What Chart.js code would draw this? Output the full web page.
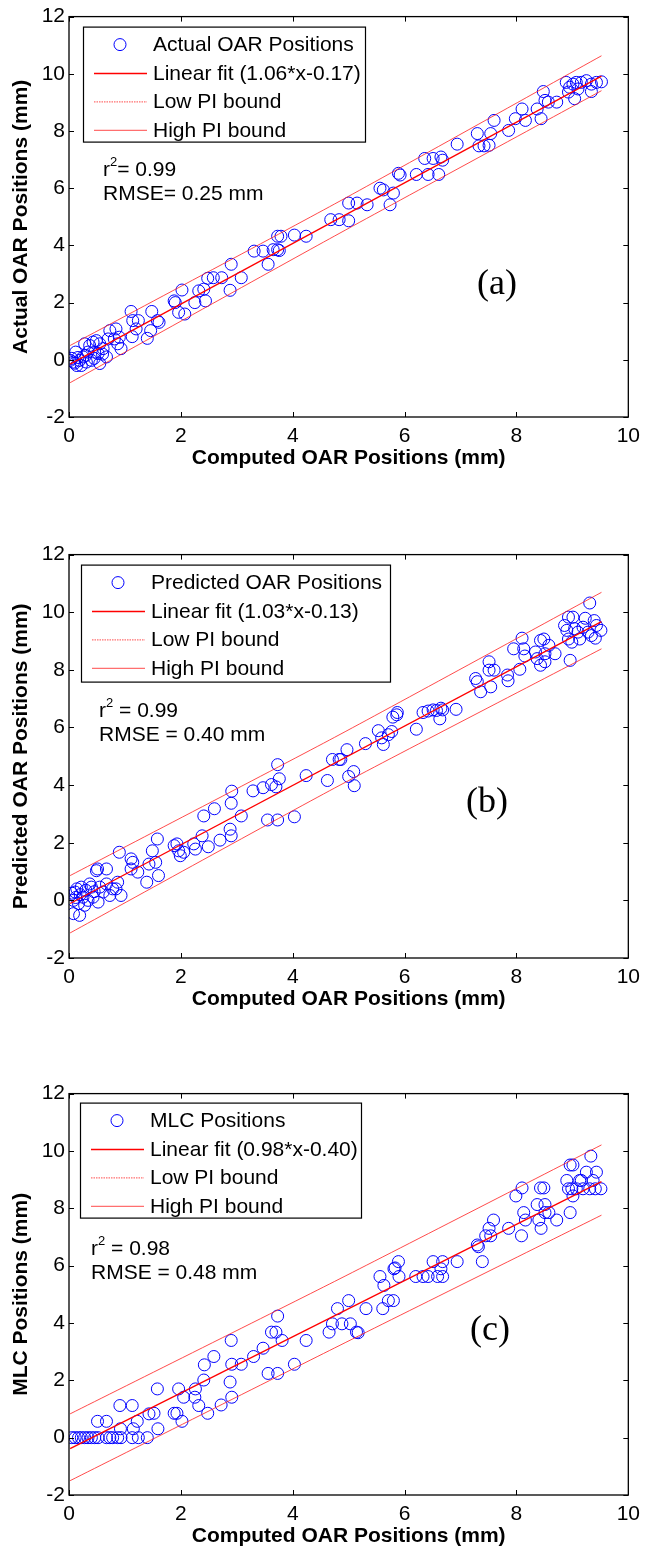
<!DOCTYPE html>
<html>
<head>
<meta charset="utf-8">
<script src="https://cdn.jsdelivr.net/npm/chart.js@4.4.1/dist/chart.umd.min.js"></script>
<style>
  html, body { margin: 0; padding: 0; background: #fff; }
  body { width: 647px; height: 1552px; position: relative; overflow: hidden; }
  .panel { position: absolute; left: 0; width: 647px; }
  .panel canvas { display: block; }
</style>
</head>
<body>
<div class="panel" style="top:0"><canvas id="chartA" width="647" height="538"></canvas></div>
<div class="panel" style="top:538px"><canvas id="chartB" width="647" height="539"></canvas></div>
<div class="panel" style="top:1077px"><canvas id="chartC" width="647" height="475"></canvas></div>
<script>
// (a) actual vs computed OAR positions, mm
const actualX = [0.02, 0.05, 0.08, 0.10, 0.14, 0.12, 0.16, 0.19, 0.22, 0.25, 0.28, 0.30, 0.31, 0.34, 0.37, 0.40, 0.43, 0.45, 0.46, 0.49, 0.52, 0.55, 0.55, 0.60, 0.61, 0.67, 0.70, 0.73, 0.81, 0.84, 0.87, 0.90, 0.93,
  1.11, 1.14, 1.24, 1.20, 1.13, 1.40, 1.46, 1.48, 1.58, 1.61, 1.88, 1.90, 2.02, 1.96, 2.07, 2.25, 2.32, 2.41, 2.44, 2.48, 2.58, 2.73, 2.90, 2.88, 3.08,
  3.31, 3.47, 3.56, 3.65, 3.73, 3.76, 3.73, 3.79, 4.03, 4.24, 4.68, 4.83, 5.00, 5.00, 5.15, 5.33, 5.56, 5.62, 5.80, 5.74, 5.89, 5.92, 6.21, 6.42, 6.61,
  6.36, 6.51, 6.65, 6.68, 6.94, 7.30, 7.33, 7.42, 7.51, 7.54, 7.60, 7.86, 7.98, 8.10, 8.16, 8.37, 8.44, 8.48, 8.51, 8.57, 8.72, 8.89, 8.95, 9.01, 9.07,
  9.04, 9.16, 9.25, 9.34, 9.34, 9.43, 9.52, 8.93, 9.10];
const actualY = [-0.02, 0.05, -0.08, -0.12, -0.20, 0.27, 0.08, -0.02, -0.20, 0.10, 0.56, 0.15, -0.08, 0.27, 0.50, -0.02, 0.62, 0.05, 0.27, 0.67, 0.22, -0.13, 0.56, 0.20, 0.39, 0.10, 0.73, 1.02, 0.73, 1.08, 0.56, 0.79, 0.39,
  1.69, 1.37, 1.37, 1.08, 0.81, 0.75, 1.02, 1.69, 1.37, 1.31, 2.06, 2.00, 2.44, 1.66, 1.60, 2.00, 2.41, 2.47, 2.06, 2.85, 2.87, 2.87, 3.34, 2.43, 2.87,
  3.80, 3.80, 3.34, 3.85, 3.85, 3.82, 4.32, 4.32, 4.36, 4.32, 4.90, 4.90, 4.86, 5.48, 5.48, 5.42, 6.00, 5.94, 5.83, 5.42, 6.52, 6.46, 6.48, 6.48, 6.48,
  7.04, 7.04, 7.09, 6.98, 7.54, 7.91, 7.48, 7.48, 7.50, 7.91, 8.37, 8.02, 8.43, 8.77, 8.37, 8.77, 8.43, 9.38, 9.07, 9.01, 9.01, 9.70, 9.53, 9.64, 9.70,
  9.13, 9.70, 9.76, 9.64, 9.38, 9.70, 9.72, 9.36, 9.47];
const actualFit = [1.06, -0.17];
const actualLow = [-0.80, 4.33, 9.41];
const actualHigh = [0.50, 5.45, 10.63];

// (b) predicted vs computed
const predX = [0.08, 0.19, 0.11, 0.14, 0.22, 0.08, 0.17, 0.25, 0.28, 0.37, 0.40, 0.43, 0.52, 0.49, 0.51, 0.67, 0.55, 0.67, 0.73, 0.78, 0.87, 0.93, 0.90, 0.34, 0.61, 0.84,
  0.05, 0.12, 0.20, 0.30, 0.45,
  1.11, 1.14, 1.11, 1.23, 1.39, 1.43, 1.49, 1.55, 1.58, 1.60, 1.88, 1.93, 1.96, 1.99, 2.05, 2.23, 2.26, 2.38, 2.49, 2.41, 2.60, 2.70, 2.88, 2.90, 2.91, 2.90,
  3.08, 3.29, 3.47, 3.55, 3.62, 3.70, 3.73, 3.76, 3.73, 4.03, 4.24, 4.62, 4.71, 4.83, 4.86, 5.00, 5.09, 5.10,
  4.97, 5.30, 5.53, 5.59, 5.62, 5.71, 5.77, 5.79, 5.87, 5.86, 6.21, 6.33, 6.42, 6.51, 6.57, 6.65, 6.68, 6.63, 6.92, 7.27, 7.30, 7.36, 7.51, 7.54, 7.51,
  7.60, 7.84, 7.85, 7.95, 8.06, 8.10, 8.13, 8.15, 8.34, 8.37, 8.43, 8.49, 8.43, 8.51, 8.51, 8.58, 8.69, 8.86, 8.90, 8.93, 9.01, 8.93, 8.99, 8.96, 9.04,
  9.10, 9.13, 9.19, 9.23, 9.31, 9.34, 9.39, 9.41, 9.43, 9.51, 9.28];
const predY = [-0.46, -0.52, 0.29, 0.40, 0.46, 0.00, -0.11, 0.11, -0.17, 0.57, 0.46, 0.11, -0.06, 1.03, 1.09, 1.09, 0.46, 0.57, 0.17, 0.40, 0.63, 0.17, 1.67, 0.00, 0.29, 0.40,
  0.25, 0.10, 0.20, 0.35, 0.30,
  1.44, 1.32, 1.09, 0.98, 0.63, 1.26, 1.72, 1.32, 2.13, 0.86, 1.90, 1.96, 1.72, 1.55, 1.67, 1.96, 1.78, 2.24, 1.86, 2.93, 3.18, 2.09, 2.47, 2.24, 3.79, 3.37,
  2.93, 3.80, 3.91, 2.79, 4.02, 3.94, 2.79, 4.22, 4.71, 2.90, 4.33, 4.16, 4.89, 4.89, 4.89, 4.30, 4.47, 3.98,
  5.23, 5.44, 5.89, 5.64, 5.41, 5.75, 5.86, 6.36, 6.52, 6.44, 5.94, 6.52, 6.57, 6.61, 6.59, 6.67, 6.61, 6.30, 6.63, 7.70, 7.59, 7.24, 7.99, 7.41, 8.28,
  7.99, 7.82, 7.62, 8.73, 8.02, 9.10, 8.73, 8.48, 8.62, 8.39, 9.02, 9.07, 8.16, 8.56, 8.28, 8.85, 8.56, 9.54, 9.37, 9.83, 9.83, 9.07, 8.96, 8.33, 9.43,
  9.31, 9.07, 9.48, 9.79, 10.32, 9.19, 9.71, 9.10, 9.54, 9.37, 9.31];
const predFit = [1.03, -0.13];
const predLow = [-1.13, 3.90, 8.73];
const predHigh = [0.86, 5.66, 10.69];

// (c) MLC vs computed
const mlcX = [0.05, 0.11, 0.17, 0.22, 0.28, 0.34, 0.40, 0.46, 0.52, 0.67, 0.73, 0.78, 0.87, 0.93, 1.13, 1.24, 1.40,
  0.51, 0.67, 0.91, 1.13, 0.92, 1.15, 1.22, 1.43, 1.52, 1.58, 1.59, 1.88, 1.93, 1.96, 2.02, 2.05, 2.25, 2.26, 2.32, 2.41, 2.42, 2.48, 2.59, 2.72,
  2.88, 2.90, 2.91, 2.91, 3.08, 3.30, 3.47, 3.56, 3.62, 3.70, 3.73, 3.73, 3.81, 4.03, 4.24, 4.65, 4.71, 4.80, 4.88, 5.00, 5.03, 5.14, 5.17, 5.31,
  5.56, 5.63, 5.61, 5.71, 5.80, 5.81, 5.90, 5.89, 6.20, 6.33, 6.42, 6.59, 6.68, 6.65, 6.51, 6.68, 6.94, 7.39, 5.83,
  7.30, 7.32, 7.45, 7.51, 7.54, 7.59, 7.86, 7.99, 8.09, 8.10, 8.13, 8.16, 8.37, 8.40, 8.44, 8.43, 8.49, 8.51, 8.51, 8.58, 8.72, 8.90, 8.93, 8.96, 9.01,
  8.96, 9.01, 8.99, 9.07, 9.13, 9.16, 9.19, 9.25, 9.31, 9.33, 9.37, 9.41, 9.43, 9.51];
const mlcY = [0, 0, 0, 0, 0, 0, 0, 0, 0, 0, 0, 0, 0, 0, 0, 0, 0,
  0.57, 0.57, 1.12, 1.12, 0.31, 0.31, 0.57, 0.83, 0.85, 1.70, 0.31, 0.85, 0.85, 1.70, 0.57, 1.41, 1.41, 1.70, 1.12, 2.01, 2.54, 0.85, 2.83, 1.14,
  1.94, 3.39, 2.56, 1.41, 2.56, 2.83, 3.12, 2.24, 3.68, 3.68, 4.24, 2.24, 3.39, 2.56, 3.39, 3.68, 3.97, 4.50, 3.97, 4.78, 3.97, 3.68, 3.66, 4.50,
  5.62, 5.31, 4.50, 4.78, 4.78, 5.89, 5.62, 6.14, 5.62, 5.62, 5.62, 5.62, 5.62, 5.89, 6.14, 6.14, 6.14, 6.14, 5.92,
  6.72, 6.66, 7.04, 7.30, 7.04, 7.59, 7.30, 8.43, 7.04, 8.71, 7.85, 7.59, 8.13, 7.59, 7.30, 8.71, 8.71, 8.13, 7.85, 7.85, 7.59, 8.97, 8.68, 9.51, 9.51,
  7.85, 8.43, 8.68, 8.68, 8.97, 8.97, 8.68, 9.26, 8.68, 9.82, 8.97, 8.68, 9.26, 8.68];
const mlcFit = [0.98, -0.40];
const mlcLow = [-1.50, 3.13, 7.76];
const mlcHigh = [0.83, 5.45, 10.21];

// x positions where the fit and PI curves are sampled
const boundX = [0.02, 4.75, 9.52];
const xTicks = [0, 2, 4, 6, 8, 10];
const yTicks = [-2, 0, 2, 4, 6, 8, 10, 12];

const SANS = "'Liberation Sans', Arial, sans-serif";
const SERIF = "'Liberation Serif', 'Times New Roman', serif";
const FS = 21;
const FIT_RED = '#ff0000';
const PI_RED = 'rgba(255, 30, 30, 0.8)';

// frame, inward tick marks, legend box, stats and panel tag
const notesPlugin = {
  id: 'notes',
  afterDraw(chart, args, o) {
    const { ctx, chartArea: a, scales } = chart;
    ctx.save();
    ctx.strokeStyle = '#000';
    ctx.lineWidth = 1.3;
    ctx.strokeRect(a.left, a.top, a.right - a.left, a.bottom - a.top);
    ctx.lineWidth = 1;
    ctx.beginPath();
    xTicks.forEach(v => {
      const px = Math.round(scales.x.getPixelForValue(v)) + 0.5;
      ctx.moveTo(px, a.bottom); ctx.lineTo(px, a.bottom - 5);
      ctx.moveTo(px, a.top); ctx.lineTo(px, a.top + 5);
    });
    yTicks.forEach(v => {
      const py = Math.round(scales.y.getPixelForValue(v)) + 0.5;
      ctx.moveTo(a.left, py); ctx.lineTo(a.left + 5, py);
      ctx.moveTo(a.right, py); ctx.lineTo(a.right - 5, py);
    });
    ctx.stroke();

    // legend
    const bx = a.left + o.box[0], by = a.top + o.box[1];
    ctx.fillStyle = '#fff';
    ctx.fillRect(bx, by, o.box[2], o.box[3]);
    ctx.strokeStyle = '#000';
    ctx.lineWidth = 1.2;
    ctx.strokeRect(bx + 0.5, by + 0.5, o.box[2], o.box[3]);
    const fitText = `Linear fit (${o.fit[0].toFixed(2)}*x-${Math.abs(o.fit[1]).toFixed(2)})`;
    const rows = [o.name, fitText, 'Low PI bound', 'High PI bound'];
    ctx.font = `${FS}px ${SANS}`;
    ctx.textBaseline = 'middle';
    ctx.textAlign = 'left';
    rows.forEach((t, i) => {
      const ry = by + 18 + i * 28.4;
      if (i === 0) {
        ctx.strokeStyle = '#0000ff';
        ctx.lineWidth = 1;
        ctx.beginPath();
        ctx.arc(bx + 37, ry, 6, 0, Math.PI * 2);
        ctx.stroke();
      } else {
        ctx.strokeStyle = i === 1 ? FIT_RED : PI_RED;
        ctx.lineWidth = i === 1 ? 1.5 : 1;
        ctx.setLineDash(i === 2 ? [1.5, 1] : []);
        ctx.beginPath();
        ctx.moveTo(bx + 11, ry + 0.5); ctx.lineTo(bx + 64, ry + 0.5);
        ctx.stroke();
        ctx.setLineDash([]);
      }
      ctx.fillStyle = '#000';
      ctx.fillText(t, bx + 70, ry + 1);
    });

    // r^2 and RMSE
    const sx = a.left + o.stats[0], sy = a.top + o.stats[1];
    ctx.font = `${FS}px ${SANS}`;
    ctx.fillText('r', sx, sy);
    const rw = ctx.measureText('r').width;
    ctx.font = `13px ${SANS}`;
    ctx.fillText('2', sx + rw, sy - 8);
    const sw = ctx.measureText('2').width;
    ctx.font = `${FS}px ${SANS}`;
    ctx.fillText(o.r2, sx + rw + sw, sy);
    ctx.fillText(o.rmse, sx, sy + 24);

    // panel tag
    ctx.font = `36px ${SERIF}`;
    ctx.textAlign = 'center';
    ctx.fillText(o.tag, a.left + o.tagAt[0], a.top + o.tagAt[1]);
    ctx.restore();
  }
};

function fitPoints(fit) {
  return [boundX[0], boundX[boundX.length - 1]].map(x => ({ x, y: fit[0] * x + fit[1] }));
}

function zipXY(xs, ys) {
  return xs.map((x, i) => ({ x, y: ys[i] }));
}

function drawPanel(p) {
  const canvas = document.getElementById(p.id);
  const H = canvas.height;
  new Chart(canvas, {
    type: 'scatter',
    data: {
      datasets: [
        {
          data: zipXY(p.xs, p.ys), order: 2,
          pointStyle: 'circle', pointRadius: 6, pointHoverRadius: 6,
          borderColor: '#0000ff', backgroundColor: 'rgba(0,0,0,0)', borderWidth: 1, showLine: false
        },
        { data: fitPoints(p.fit), order: 1, showLine: true, pointRadius: 0, borderColor: FIT_RED, borderWidth: 1.3 },
        { data: zipXY(boundX, p.low), order: 1, showLine: true, pointRadius: 0, borderColor: PI_RED, borderWidth: 1, tension: 0.2 },
        { data: zipXY(boundX, p.high), order: 1, showLine: true, pointRadius: 0, borderColor: PI_RED, borderWidth: 1, tension: 0.2 }
      ]
    },
    options: {
      responsive: false,
      animation: false,
      layout: { padding: { top: 14, right: 13, left: 0, bottom: H - p.bottom - 56 } },
      scales: {
        x: {
          type: 'linear', min: 0, max: 10,
          grid: { display: false, drawTicks: false },
          border: { display: false },
          ticks: { stepSize: 2, padding: 7, color: '#000', font: { family: SANS, size: FS } },
          title: { display: true, text: 'Computed OAR Positions (mm)', color: '#000',
                   font: { family: SANS, size: FS, weight: 'bold' }, padding: { top: 0, bottom: 2 } },
          afterFit(scale) { scale.height = 56; }
        },
        y: {
          type: 'linear', min: -2, max: 12,
          grid: { display: false, drawTicks: false },
          border: { display: false },
          ticks: { stepSize: 2, padding: 4, color: '#000', font: { family: SANS, size: FS } },
          title: { display: true, text: p.yTitle, color: '#000',
                   font: { family: SANS, size: FS, weight: 'bold' }, padding: { top: 9, bottom: 0 } },
          afterFit(scale) { scale.width = 69; }
        }
      },
      plugins: {
        legend: { display: false },
        tooltip: { enabled: false },
        notes: {
          box: p.box, fit: p.fit, name: p.name,
          stats: p.stats, r2: p.r2, rmse: p.rmse,
          tag: p.tag, tagAt: p.tagAt
        }
      }
    },
    plugins: [notesPlugin]
  });
}

drawPanel({ id: 'chartA', bottom: 417, xs: actualX, ys: actualY, fit: actualFit, low: actualLow, high: actualHigh,
  name: 'Actual OAR Positions', yTitle: 'Actual OAR Positions (mm)',
  box: [14, 10, 282, 115], stats: [34, 154], r2: '= 0.99', rmse: 'RMSE= 0.25 mm', tag: '(a)', tagAt: [428, 268] });
drawPanel({ id: 'chartB', bottom: 420, xs: predX, ys: predY, fit: predFit, low: predLow, high: predHigh,
  name: 'Predicted OAR Positions', yTitle: 'Predicted OAR Positions (mm)',
  box: [12, 10, 309, 117], stats: [30, 157], r2: ' = 0.99', rmse: 'RMSE = 0.40 mm', tag: '(b)', tagAt: [418, 248] });
drawPanel({ id: 'chartC', bottom: 418, xs: mlcX, ys: mlcY, fit: mlcFit, low: mlcLow, high: mlcHigh,
  name: 'MLC Positions', yTitle: 'MLC Positions (mm)',
  box: [11, 9, 281, 115], stats: [22, 156], r2: ' = 0.98', rmse: 'RMSE = 0.48 mm', tag: '(c)', tagAt: [421, 237] });
</script>
</body>
</html>
